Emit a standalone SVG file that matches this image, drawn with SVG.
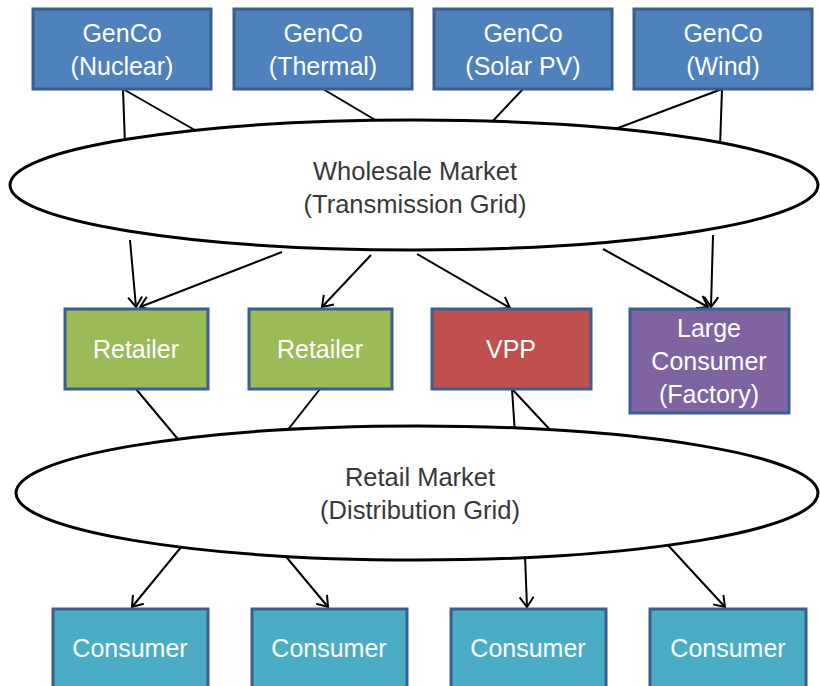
<svg xmlns="http://www.w3.org/2000/svg" width="820" height="686" viewBox="0 0 820 686">
  <style>
    .box { stroke: #3a5f8c; stroke-width: 3; }
    .gen { fill: #4f81bd; }
    .ret { fill: #9bbb59; }
    .vpp { fill: #c0504d; }
    .lrg { fill: #8064a2; }
    .con { fill: #4bacc6; }
    .lbl { font-family: "Liberation Sans", Arial, sans-serif; font-size: 25px; fill: #ffffff; text-anchor: middle; }
    .mkt { fill: #ffffff; stroke: #000000; stroke-width: 3; }
    .mlbl { font-family: "Liberation Sans", Arial, sans-serif; font-size: 25.5px; fill: #383838; text-anchor: middle; }
    .link { stroke: #000000; stroke-width: 2; fill: none; }
    .arrow { marker-end: url(#head); }
  </style>
  <defs>
    <marker id="head" markerUnits="userSpaceOnUse" markerWidth="16" markerHeight="18" refX="11" refY="8" orient="auto">
      <path d="M1,1 L11,8 L1,15" fill="none" stroke="#000000" stroke-width="2"/>
    </marker>
  </defs>

  <!-- connectors (drawn first so the market ellipses sit on top) -->
  <g id="connectors">
    <!-- generators to wholesale market -->
    <line class="link" x1="123" y1="89" x2="125" y2="145"/>
    <line class="link" x1="123" y1="89" x2="200" y2="133"/>
    <line class="link" x1="323" y1="89" x2="382" y2="124"/>
    <line class="link" x1="523" y1="89" x2="490" y2="124"/>
    <line class="link" x1="722" y1="89" x2="610" y2="131"/>
    <line class="link" x1="722" y1="89" x2="720" y2="147"/>
    <!-- wholesale market to retailers, VPP and large consumer -->
    <line class="link arrow" x1="130" y1="240" x2="136" y2="307"/>
    <line class="link arrow" x1="282" y1="252" x2="140" y2="307"/>
    <line class="link arrow" x1="371" y1="255" x2="322" y2="307"/>
    <line class="link arrow" x1="417" y1="254" x2="510" y2="308"/>
    <line class="link arrow" x1="603" y1="249" x2="708" y2="307"/>
    <line class="link arrow" x1="713" y1="235" x2="711" y2="307"/>
    <!-- retailers and VPP to retail market -->
    <line class="link" x1="136" y1="389" x2="182" y2="444"/>
    <line class="link" x1="320" y1="389" x2="283" y2="436"/>
    <line class="link" x1="512" y1="389" x2="515" y2="434"/>
    <line class="link" x1="512" y1="389" x2="554" y2="434"/>
    <!-- retail market to consumers -->
    <line class="link arrow" x1="182" y1="546" x2="132" y2="607"/>
    <line class="link arrow" x1="283" y1="553" x2="328" y2="607"/>
    <line class="link arrow" x1="525" y1="555" x2="527" y2="607"/>
    <line class="link arrow" x1="666" y1="543" x2="725" y2="607"/>
  </g>

  <!-- generators -->
  <g id="genco-nuclear">
    <rect class="box gen" x="33" y="9" width="178" height="80"/>
    <text class="lbl" x="122" y="42">GenCo</text>
    <text class="lbl" x="122" y="75">(Nuclear)</text>
  </g>
  <g id="genco-thermal">
    <rect class="box gen" x="234" y="9" width="178" height="80"/>
    <text class="lbl" x="323" y="42">GenCo</text>
    <text class="lbl" x="323" y="75">(Thermal)</text>
  </g>
  <g id="genco-solar">
    <rect class="box gen" x="434" y="9" width="178" height="80"/>
    <text class="lbl" x="523" y="42">GenCo</text>
    <text class="lbl" x="523" y="75">(Solar PV)</text>
  </g>
  <g id="genco-wind">
    <rect class="box gen" x="634" y="9" width="178" height="80"/>
    <text class="lbl" x="723" y="42">GenCo</text>
    <text class="lbl" x="723" y="75">(Wind)</text>
  </g>

  <!-- wholesale market -->
  <g id="wholesale-market">
    <ellipse class="mkt" cx="414" cy="185" rx="404" ry="65"/>
    <text class="mlbl" x="415" y="180">Wholesale Market</text>
    <text class="mlbl" x="415" y="213">(Transmission Grid)</text>
  </g>

  <!-- second tier -->
  <g id="retailer-1">
    <rect class="box ret" x="65" y="309" width="143" height="80"/>
    <text class="lbl" x="136" y="358">Retailer</text>
  </g>
  <g id="retailer-2">
    <rect class="box ret" x="249" y="309" width="143" height="80"/>
    <text class="lbl" x="320" y="358">Retailer</text>
  </g>
  <g id="vpp">
    <rect class="box vpp" x="432" y="309" width="159" height="80"/>
    <text class="lbl" x="511" y="358">VPP</text>
  </g>
  <g id="large-consumer">
    <rect class="box lrg" x="630" y="309" width="159" height="104"/>
    <text class="lbl" x="709" y="337">Large</text>
    <text class="lbl" x="709" y="370">Consumer</text>
    <text class="lbl" x="709" y="403">(Factory)</text>
  </g>

  <!-- retail market -->
  <g id="retail-market">
    <ellipse class="mkt" cx="417" cy="493" rx="401" ry="67"/>
    <text class="mlbl" x="420" y="486">Retail Market</text>
    <text class="mlbl" x="420" y="519">(Distribution Grid)</text>
  </g>

  <!-- consumers -->
  <g id="consumer-1">
    <rect class="box con" x="53" y="609" width="155" height="90"/>
    <text class="lbl" x="130" y="657">Consumer</text>
  </g>
  <g id="consumer-2">
    <rect class="box con" x="252" y="609" width="155" height="90"/>
    <text class="lbl" x="329" y="657">Consumer</text>
  </g>
  <g id="consumer-3">
    <rect class="box con" x="451" y="609" width="155" height="90"/>
    <text class="lbl" x="528" y="657">Consumer</text>
  </g>
  <g id="consumer-4">
    <rect class="box con" x="650" y="609" width="156" height="90"/>
    <text class="lbl" x="728" y="657">Consumer</text>
  </g>
</svg>
